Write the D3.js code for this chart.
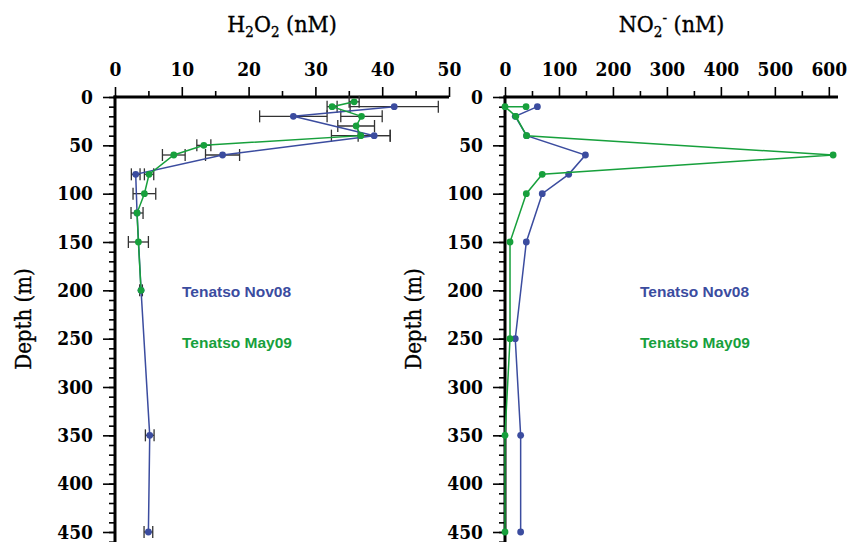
<!DOCTYPE html>
<html>
<head>
<meta charset="utf-8">
<script src="https://cdn.jsdelivr.net/npm/d3@7/dist/d3.min.js"></script>
<style>
  body { margin: 0; background: #fff; }
  .serif { font-family: "DejaVu Serif Condensed", "DejaVu Serif", serif; font-weight: bold; }
  .label { font-family: "DejaVu Serif Condensed", "DejaVu Serif", serif; font-weight: normal; stroke: #000; stroke-width: 0.35px; }
  .legend { font-family: "Liberation Sans", Arial, sans-serif; font-weight: bold; font-size: 15.5px; }
</style>
</head>
<body>
<div id="chart"></div>
<script>
// depth axis (m)
const depthTicks = [0, 50, 100, 150, 200, 250, 300, 350, 400, 450];
const h2o2Ticks = [0, 10, 20, 30, 40, 50];
const no2Ticks = [0, 100, 200, 300, 400, 500, 600];

// H2O2 (nM)
const novH2o2Depth = [10, 20, 40, 60, 80, 120, 200, 350, 450];
const novH2o2 = [41.8, 26.7, 38.8, 16.1, 3.1, 3.3, 3.9, 5.2, 5.0];
const novH2o2Err = [6.6, 5.05, 2.4, 2.55, 0.65, 0, 0, 0.65, 0.65];

const mayH2o2Depth = [5, 10, 20, 30, 40, 50, 60, 80, 100, 120, 150, 200];
const mayH2o2 = [35.8, 32.5, 36.9, 36.1, 36.8, 13.3, 8.8, 5.1, 4.4, 3.3, 3.5, 3.9];
const mayH2o2Err = [0.75, 0.75, 3.1, 2.75, 4.4, 1.05, 1.7, 0.7, 1.7, 0.9, 1.5, 0.2];

// NO2- (nM)
const novNo2Depth = [10, 20, 40, 60, 80, 100, 150, 250, 350, 450];
const novNo2 = [60, 19, 40, 149, 118, 69, 39.5, 19, 29, 29];
const mayNo2Depth = [10, 10, 20, 40, 60, 80, 100, 150, 250, 350, 450];
const mayNo2 = [39, 0, 20, 40, 608, 69, 39.5, 9.3, 9.3, 0, 0];

const blue = "#3b4c9f";
const green = "#17a03c";
const width = 849, height = 542;

const svg = d3.select("#chart").append("svg")
  .attr("width", width)
  .attr("height", height);

const y = d3.scaleLinear().domain([0, 450]).range([97, 532]);

function panel(opt) {
  const x = d3.scaleLinear().domain(opt.domain).range(opt.range);
  const g = svg.append("g");

  // minor ticks
  g.append("g")
    .attr("transform", `translate(0,${y(0)})`)
    .call(d3.axisTop(x).tickValues(opt.minor).tickSize(6).tickSizeOuter(0).tickFormat(""))
    .call(a => a.select(".domain").remove());
  g.append("g")
    .attr("transform", `translate(${x(0)},0)`)
    .call(d3.axisLeft(y).tickValues(d3.range(0, 461, 10)).tickSize(6).tickSizeOuter(0).tickFormat(""))
    .call(a => a.select(".domain").remove());

  // major ticks
  const xa = g.append("g")
    .attr("transform", `translate(0,${y(0)})`)
    .call(d3.axisTop(x).tickValues(opt.ticks).tickSize(10).tickSizeOuter(0).tickPadding(11));
  const ya = g.append("g")
    .attr("transform", `translate(${x(0)},0)`)
    .call(d3.axisLeft(y).tickValues(depthTicks).tickSize(12).tickSizeOuter(0).tickPadding(10));

  [xa, ya].forEach(a => {
    a.selectAll("text").attr("class", "serif").style("font-size", "19px").attr("fill", "#000");
    a.select(".domain").remove();
  });
  g.selectAll(".tick line").attr("stroke", "#000").attr("stroke-width", 1.6);

  // spines
  g.append("line").attr("x1", x(0) - 1.5).attr("x2", opt.range[1])
    .attr("y1", y(0)).attr("y2", y(0)).attr("stroke", "#000").attr("stroke-width", 3);
  g.append("line").attr("x1", x(0)).attr("x2", x(0))
    .attr("y1", y(0) - 1.5).attr("y2", height).attr("stroke", "#000").attr("stroke-width", 3);

  // titles
  const t = g.append("text").attr("class", "label").style("font-size", "23px")
    .attr("x", (opt.range[0] + opt.range[1]) / 2).attr("y", 32).attr("text-anchor", "middle");
  opt.title(t);

  g.append("text").attr("class", "label").style("font-size", "22px")
    .attr("transform", `translate(${opt.range[0] - 92},319) rotate(-90)`)
    .attr("text-anchor", "middle").attr("dy", "0.35em")
    .text("Depth (m)");

  const line = d3.line().x(d => x(d[0])).y(d => y(d[1]));

  opt.series.forEach(s => {
    const pts = s.values.map((v, i) => [v, s.depth[i], s.err ? s.err[i] : 0]);
    const eb = g.append("g").attr("stroke", "#333").attr("stroke-width", 1.3);
    pts.filter(p => p[2] > 0).forEach(p => {
      eb.append("line").attr("x1", x(p[0] - p[2])).attr("x2", x(p[0] + p[2]))
        .attr("y1", y(p[1])).attr("y2", y(p[1]));
      [p[0] - p[2], p[0] + p[2]].forEach(e => {
        eb.append("line").attr("x1", x(e)).attr("x2", x(e))
          .attr("y1", y(p[1]) - 6).attr("y2", y(p[1]) + 6);
      });
    });
    s.pts = pts;
  });

  opt.series.forEach(s => {
    g.append("path").datum(s.pts).attr("d", line)
      .attr("fill", "none").attr("stroke", s.color).attr("stroke-width", 1.5);
    g.selectAll(null).data(s.pts).enter().append("circle")
      .attr("cx", d => x(d[0])).attr("cy", d => y(d[1])).attr("r", 3.4)
      .attr("fill", s.color);
  });

  g.append("text").attr("class", "legend").attr("x", opt.legendX).attr("y", 297)
    .attr("fill", blue).text("Tenatso Nov08");
  g.append("text").attr("class", "legend").attr("x", opt.legendX).attr("y", 348)
    .attr("fill", green).text("Tenatso May09");
}

panel({
  domain: [0, 50], range: [115, 449],
  ticks: h2o2Ticks, minor: d3.range(5, 50, 10),
  legendX: 182,
  title: t => {
    t.append("tspan").text("H");
    t.append("tspan").attr("dy", 5).style("font-size", "15px").text("2");
    t.append("tspan").attr("dy", -5).text("O");
    t.append("tspan").attr("dy", 5).style("font-size", "15px").text("2");
    t.append("tspan").attr("dy", -5).text(" (nM)");
  },
  series: [
    { depth: novH2o2Depth, values: novH2o2, err: novH2o2Err, color: blue },
    { depth: mayH2o2Depth, values: mayH2o2, err: mayH2o2Err, color: green }
  ]
});

panel({
  domain: [0, 617], range: [505, 838],
  ticks: no2Ticks, minor: d3.range(50, 601, 100),
  legendX: 640,
  title: t => {
    t.append("tspan").text("NO");
    t.append("tspan").attr("dy", 5).style("font-size", "15px").text("2");
    t.append("tspan").attr("dy", -14).style("font-size", "15px").text("-");
    t.append("tspan").attr("dy", 9).text(" (nM)");
  },
  series: [
    { depth: novNo2Depth, values: novNo2, color: blue },
    { depth: mayNo2Depth, values: mayNo2, color: green }
  ]
});
</script>
</body>
</html>
